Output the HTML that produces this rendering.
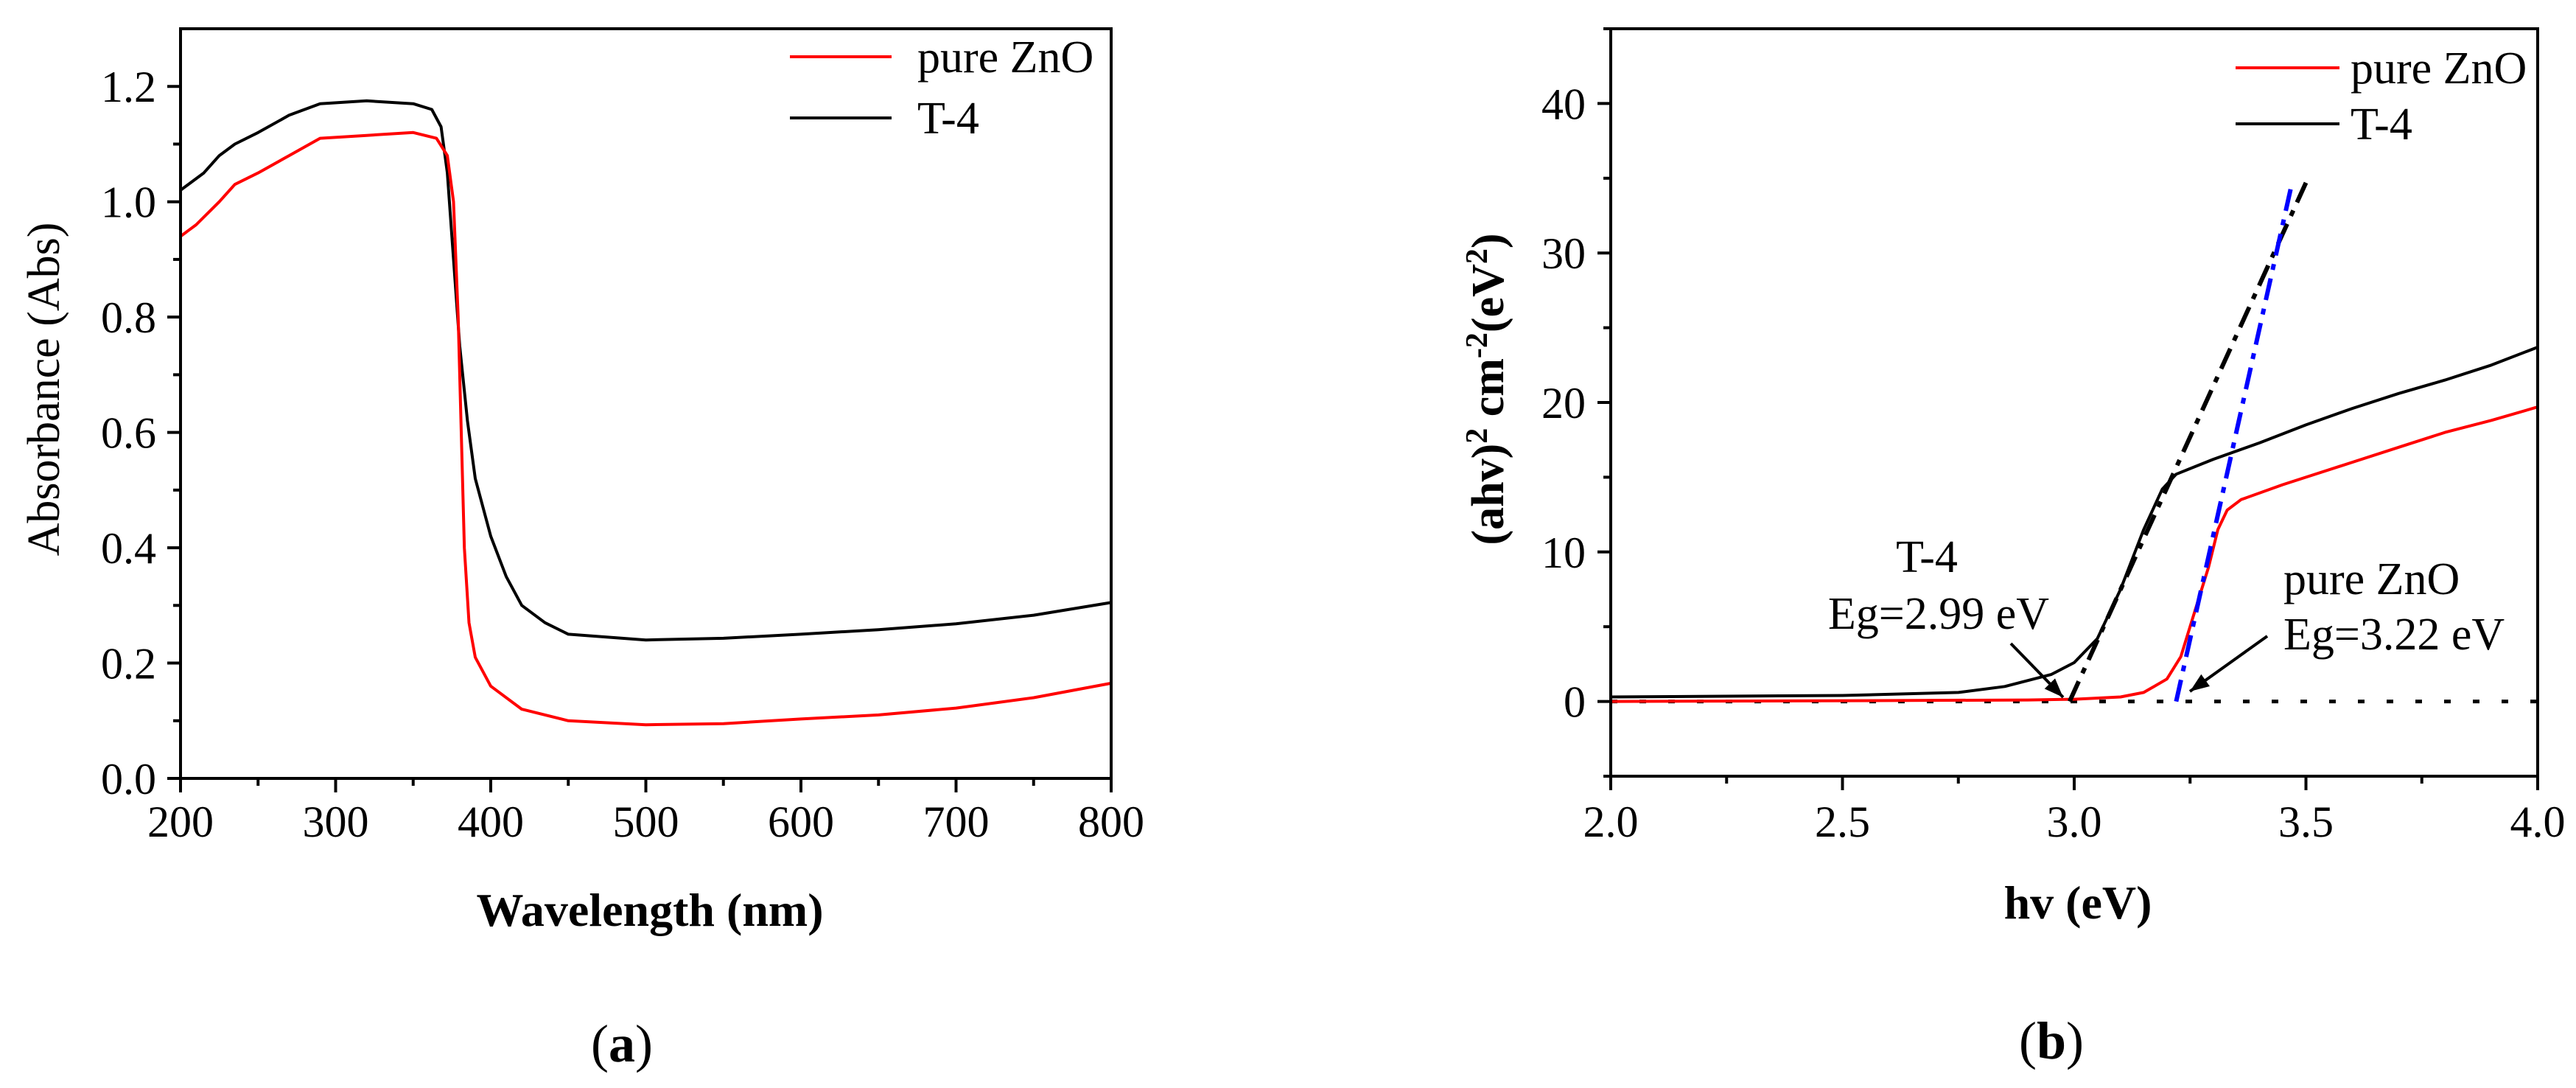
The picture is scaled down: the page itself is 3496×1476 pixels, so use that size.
<!DOCTYPE html>
<html><head><meta charset="utf-8"><style>
html,body{margin:0;padding:0;background:#fff;}
svg, svg text{font-family:"Liberation Serif","Times New Roman",serif;}
</style></head><body>
<svg id="fig" width="3496" height="1471" viewBox="0 0 3496 1471" xmlns="http://www.w3.org/2000/svg" font-family="Liberation Serif, serif">
<rect width="3496" height="1471" fill="#fff"/>
<g id="pa" font-family="Liberation Serif, serif"></g>
<g id="pb" font-family="Liberation Serif, serif"></g>
</svg>
<script>
// Panel (a) data
const wlA = [200,210,225,235,250,270,290,320,350,365,372,376,379,381,383,386,390,400,420,450,500,550,600,650,700,750,800];
const absZnO = [0.94,0.96,1.0,1.03,1.05,1.08,1.11,1.115,1.12,1.11,1.08,1.0,0.8,0.6,0.4,0.27,0.21,0.16,0.12,0.10,0.093,0.095,0.103,0.11,0.122,0.14,0.165];
const wlB = [200,215,225,235,250,270,290,320,350,362,368,372,376,380,385,390,400,410,420,435,450,500,550,600,650,700,750,800];
const absT4 = [1.02,1.05,1.08,1.10,1.12,1.15,1.17,1.175,1.17,1.16,1.13,1.05,0.9,0.75,0.62,0.52,0.42,0.35,0.30,0.27,0.25,0.24,0.243,0.25,0.258,0.268,0.283,0.305];
const xTicksA = [200,300,400,500,600,700,800];
const yTicksA = ["0.0","0.2","0.4","0.6","0.8","1.0","1.2"];
// Panel (b) data
const evZnO = [2.0,2.5,2.9,3.0,3.1,3.15,3.2,3.23,3.26,3.29,3.31,3.33,3.36,3.45,3.5,3.6,3.7,3.8,3.9,4.0];
const tzZnO = [0.0,0.05,0.1,0.15,0.3,0.6,1.5,3,6,9,11.5,12.8,13.5,14.5,15,16,17,18,18.8,19.7];
const evT4 = [2.0,2.5,2.75,2.85,2.95,3.0,3.05,3.1,3.15,3.19,3.22,3.3,3.4,3.5,3.6,3.7,3.8,3.9,4.0];
const tzT4 = [0.3,0.4,0.6,1.0,1.8,2.6,4.2,7.5,11.5,14.2,15.2,16.2,17.3,18.5,19.6,20.6,21.5,22.5,23.7];
const fitT4 = [[2.99,0],[3.5,34.7]];
const fitZnO = [[3.22,0],[3.47,34.7]];
const xTicksB = ["2.0","2.5","3.0","3.5","4.0"];
const yTicksB = [0,10,20,30,40];

const NS="http://www.w3.org/2000/svg";
const FF="Liberation Serif, Times New Roman, serif";
function mk(parent,tag,attrs){const e=document.createElementNS(NS,tag);for(const k in attrs)e.setAttribute(k,attrs[k]);if(tag==='text')e.setAttribute('font-family',FF);parent.appendChild(e);return e;}

// ---------- Panel A ----------
const A = document.getElementById('pa');
const ax = v => 245 + (v-200)*(1508-245)/600;
const ay = v => 1056 - v*(1056-39)/1.3;
function pathOf(xs,ys,fx,fy){return xs.map((x,i)=>(i?'L':'M')+fx(x).toFixed(1)+','+fy(ys[i]).toFixed(1)).join(' ');}
let p;
p=mk(A,'path',{d:pathOf(wlB,absT4,ax,ay),fill:'none',stroke:'#000','stroke-width':4,'stroke-linejoin':'round'});


p=mk(A,'path',{d:pathOf(wlA,absZnO,ax,ay),fill:'none',stroke:'#f00','stroke-width':4,'stroke-linejoin':'round'});


p=mk(A,'rect',{x:245,y:39,width:1263,height:1017,fill:'none',stroke:'#000','stroke-width':4});


for(let v=200;v<=800;v+=50){const major=v%100===0;
 p=mk(A,'line',{x1:ax(v),x2:ax(v),y1:1056,y2:1056+(major?19:10),stroke:'#000','stroke-width':4});
 
 }
xTicksA.forEach(v=>{p=mk(A,'text',{x:ax(v),y:1135,'font-size':60,'text-anchor':'middle'});p.textContent=v;
 
 });
for(let i=0;i<=12;i++){const v=i*0.1;const major=i%2===0;
 p=mk(A,'line',{x1:245-(major?18:10),x2:245,y1:ay(v),y2:ay(v),stroke:'#000','stroke-width':4});
 
 }
yTicksA.forEach(s=>{p=mk(A,'text',{x:212,y:ay(parseFloat(s))+21,'font-size':60,'text-anchor':'end'});p.textContent=s;
 
 });
p=mk(A,'text',{x:882,y:1256,'font-size':64,'font-weight':'bold','text-anchor':'middle'});p.textContent='Wavelength (nm)';


p=mk(A,'text',{x:0,y:0,'font-size':62,'text-anchor':'middle',transform:'translate(80,528) rotate(-90)'});p.textContent='Absorbance (Abs)';


p=mk(A,'line',{x1:1072,x2:1210,y1:77,y2:77,stroke:'#f00','stroke-width':4});


p=mk(A,'text',{x:1245,y:98,'font-size':62});p.textContent='pure ZnO';


p=mk(A,'line',{x1:1072,x2:1210,y1:160,y2:160,stroke:'#000','stroke-width':4});


p=mk(A,'text',{x:1245,y:181,'font-size':62});p.textContent='T-4';


p=mk(A,'text',{x:844,y:1440,'font-size':72,'text-anchor':'middle'});
p.innerHTML='(<tspan font-weight="bold">a</tspan>)';



// ---------- Panel B ----------
const B = document.getElementById('pb');
const bx = v => 2186 + (v-2)*(3444-2186)/2;
const by = v => 1053 - (v+5)*(1053-39)/50;
p=mk(B,'line',{x1:bx(2),x2:bx(4),y1:by(0),y2:by(0),stroke:'#000','stroke-width':5,'stroke-dasharray':'9 30'});


p=mk(B,'path',{d:pathOf(evT4,tzT4,bx,by),fill:'none',stroke:'#000','stroke-width':4,'stroke-linejoin':'round'});


p=mk(B,'path',{d:pathOf(evZnO,tzZnO,bx,by),fill:'none',stroke:'#f00','stroke-width':4,'stroke-linejoin':'round'});


p=mk(B,'line',{x1:bx(fitT4[0][0]),y1:by(fitT4[0][1]),x2:bx(fitT4[1][0]),y2:by(fitT4[1][1]),stroke:'#000','stroke-width':6,'stroke-dasharray':'30 12 8 12'});


p=mk(B,'line',{x1:bx(fitZnO[0][0]),y1:by(fitZnO[0][1]),x2:bx(fitZnO[1][0]),y2:by(fitZnO[1][1]),stroke:'#00f','stroke-width':6,'stroke-dasharray':'30 12 8 12'});


p=mk(B,'rect',{x:2186,y:39,width:1258,height:1014,fill:'none',stroke:'#000','stroke-width':4});


for(let i=0;i<=8;i++){const v=2+i*0.25;const major=i%2===0;
 p=mk(B,'line',{x1:bx(v),x2:bx(v),y1:1053,y2:1053+(major?19:10),stroke:'#000','stroke-width':4});
 
 }
xTicksB.forEach(s=>{p=mk(B,'text',{x:bx(parseFloat(s)),y:1135,'font-size':60,'text-anchor':'middle'});p.textContent=s;
 
 });
for(let v=-5;v<=45;v+=5){const major=v%10===0;
 p=mk(B,'line',{x1:2186-(major?18:10),x2:2186,y1:by(v),y2:by(v),stroke:'#000','stroke-width':4});
 
 }
yTicksB.forEach(v=>{p=mk(B,'text',{x:2152,y:by(v)+21,'font-size':60,'text-anchor':'end'});p.textContent=v;
 
 });
p=mk(B,'text',{x:2820,y:1246,'font-size':64,'font-weight':'bold','text-anchor':'middle'});p.textContent='hv (eV)';


p=mk(B,'text',{x:0,y:0,'font-size':62,'font-weight':'bold','text-anchor':'middle',transform:'translate(2040,528) rotate(-90)'});
p.innerHTML='(ahv)<tspan dy="-22" font-size="42">2</tspan><tspan dy="22"> cm</tspan><tspan dy="-22" font-size="42">-2</tspan><tspan dy="22">(eV</tspan><tspan dy="-22" font-size="42">2</tspan><tspan dy="22">)</tspan>';


p=mk(B,'line',{x1:3034,x2:3175,y1:92,y2:92,stroke:'#f00','stroke-width':4});


p=mk(B,'text',{x:3190,y:113,'font-size':62});p.textContent='pure ZnO';


p=mk(B,'line',{x1:3034,x2:3175,y1:168,y2:168,stroke:'#000','stroke-width':4});


p=mk(B,'text',{x:3190,y:189,'font-size':62});p.textContent='T-4';


p=mk(B,'text',{x:2615,y:776,'font-size':62,'text-anchor':'middle'});p.textContent='T-4';


p=mk(B,'text',{x:2631,y:853,'font-size':62,'text-anchor':'middle'});p.textContent='Eg=2.99 eV';


p=mk(B,'text',{x:3099,y:806,'font-size':62});p.textContent='pure ZnO';


p=mk(B,'text',{x:3099,y:881,'font-size':62});p.textContent='Eg=3.22 eV';


function arrow(x1,y1,x2,y2,name){
 const g=mk(B,'g',{});
 
 
 mk(g,'line',{x1:x1,y1:y1,x2:x2,y2:y2,stroke:'#000','stroke-width':4});
 const a=Math.atan2(y2-y1,x2-x1),L=26,W=10;
 const bx0=x2-L*Math.cos(a),by0=y2-L*Math.sin(a);
 mk(g,'polygon',{points:`${x2},${y2} ${bx0+W*Math.sin(a)},${by0-W*Math.cos(a)} ${bx0-W*Math.sin(a)},${by0+W*Math.cos(a)}`,fill:'#000'});
}
arrow(2729,873,2800,946,'t4-arrow');
arrow(3077,863,2972,938,'zno-arrow');
p=mk(B,'text',{x:2784,y:1436,'font-size':72,'text-anchor':'middle'});
p.innerHTML='(<tspan font-weight="bold">b</tspan>)';


</script>
</body></html>
